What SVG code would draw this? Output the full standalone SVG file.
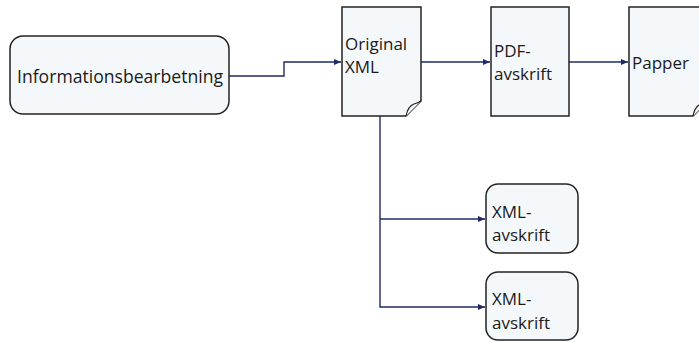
<svg xmlns="http://www.w3.org/2000/svg" width="699" height="342" viewBox="0 0 699 342">
<defs>
<style>
.box{fill:#f4f8fa;stroke:#222;stroke-width:1.5}
.fold{fill:#f4f8fa;stroke:#222;stroke-width:1.2}
.lbl{font-family:"Open Sans","Noto Sans",sans-serif;font-size:17px;fill:#1a1a1a}
.big{font-size:17.6px}
.con{fill:none;stroke:#1f2a66;stroke-width:1.4}
</style>
<marker id="arr" markerWidth="8" markerHeight="8" refX="7" refY="4" orient="auto" markerUnits="userSpaceOnUse">
<path d="M0,1 L7,4 L0,7 Z" fill="#1f2a66"/>
</marker>
<path id="doc" d="M0,0 H79 V94 L64,109 H0 Z"/>
</defs>
<rect width="699" height="342" fill="#fff"/>
<g id="connectors">
<path class="con" d="M229,76 H284 V62 H341" marker-end="url(#arr)"/>
<path class="con" d="M421,62 H490" marker-end="url(#arr)"/>
<path class="con" d="M569,62 H628" marker-end="url(#arr)"/>
<path class="con" d="M380,116 V307 H485" marker-end="url(#arr)"/>
<path class="con" d="M380,219 H485" marker-end="url(#arr)"/>
</g>
<g id="info">
<rect class="box" x="10" y="36" width="219" height="78" rx="13"/>
<text class="lbl big" x="120" y="82.5" text-anchor="middle">Informationsbearbetning</text>
</g>
<g id="original">
<use href="#doc" class="box" x="342" y="7"/>
<path class="fold" d="M406,116 Q408,106 414,104 Q418,103 421,101"/>
<text class="lbl" x="345" y="50">Original</text>
<text class="lbl" x="345" y="73">XML</text>
</g>
<g id="pdf">
<rect class="box" x="491" y="7" width="78" height="109"/>
<text class="lbl" x="494" y="57">PDF-</text>
<text class="lbl" x="494" y="80">avskrift</text>
</g>
<g id="papper">
<use href="#doc" class="box" x="629" y="7"/>
<path class="fold" d="M693,116 Q695,106 701,104 Q705,103 708,101"/>
<text class="lbl" x="632" y="69">Papper</text>
</g>
<g id="xml1">
<rect class="box" x="486" y="184" width="92" height="69" rx="12"/>
<text class="lbl" x="492" y="218">XML-</text>
<text class="lbl" x="492" y="241">avskrift</text>
</g>
<g id="xml2">
<rect class="box" x="486" y="272" width="92" height="68" rx="12"/>
<text class="lbl" x="492" y="305">XML-</text>
<text class="lbl" x="492" y="329">avskrift</text>
</g>
</svg>
